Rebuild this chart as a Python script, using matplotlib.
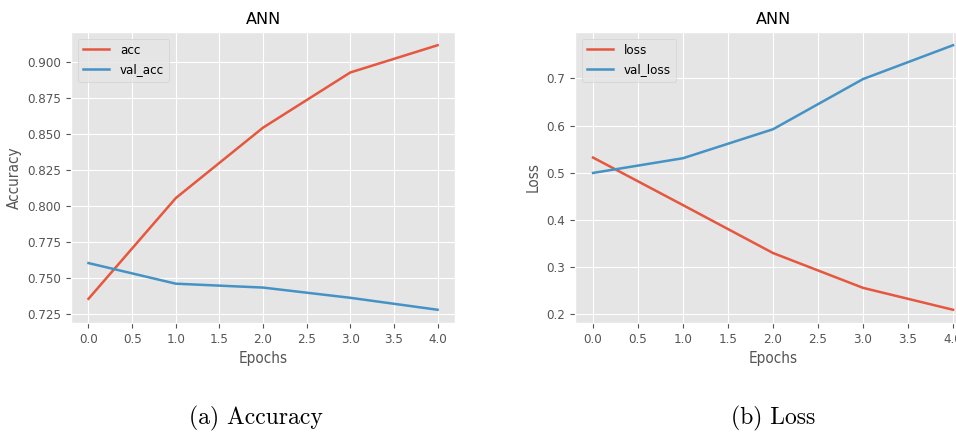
import matplotlib
matplotlib.use("Agg")
import matplotlib.pyplot as plt

epochs = [0, 1, 2, 3, 4]
acc = [0.7358, 0.8057, 0.8546, 0.8929, 0.9118]
val_acc = [0.7606, 0.7463, 0.7436, 0.7365, 0.7282]
loss = [0.5324, 0.4316, 0.3301, 0.2563, 0.2099]
val_loss = [0.4998, 0.5310, 0.5924, 0.6987, 0.7704]

plt.style.use('ggplot')
plt.rcParams['font.family'] = ['DejaVu Sans']
plt.rcParams['font.stretch'] = 'condensed'

red = '#E5573F'
blue = '#4592C4'

fig = plt.figure(figsize=(9.56, 4.36), dpi=100)

ax1 = fig.add_axes([0.0743, 0.2592, 0.4017, 0.6674])
ax1.plot(epochs, acc, color=red, lw=1.8, label='acc')
ax1.plot(epochs, val_acc, color=blue, lw=1.8, label='val_acc')
ax1.set_title('ANN', fontsize=11.5, family='DejaVu Sans', stretch='normal')
ax1.set_xlabel('Epochs', fontsize=11)
ax1.set_ylabel('Accuracy', fontsize=11)
ax1.tick_params(labelsize=9.5)
ax1.legend(loc='upper left', fontsize=9.5)

ax2 = fig.add_axes([0.6015, 0.2592, 0.4142, 0.6674])
ax2.plot(epochs, loss, color=red, lw=1.8, label='loss')
ax2.plot(epochs, val_loss, color=blue, lw=1.8, label='val_loss')
ax2.set_title('ANN', fontsize=11.5, family='DejaVu Sans', stretch='normal')
ax2.set_xlabel('Epochs', fontsize=11)
ax2.set_ylabel('Loss', fontsize=11)
ax2.tick_params(labelsize=9.5)
ax2.legend(loc='upper left', fontsize=9.5)

fig.text(0.268, 0.041, '(a) Accuracy', ha='center', va='center',
         fontsize=17, family='cmr10', stretch='normal')
fig.text(0.8086, 0.041, '(b) Loss', ha='center', va='center',
         fontsize=17, family='cmr10', stretch='normal')

fig.savefig('out.png', dpi=100, facecolor='white')
